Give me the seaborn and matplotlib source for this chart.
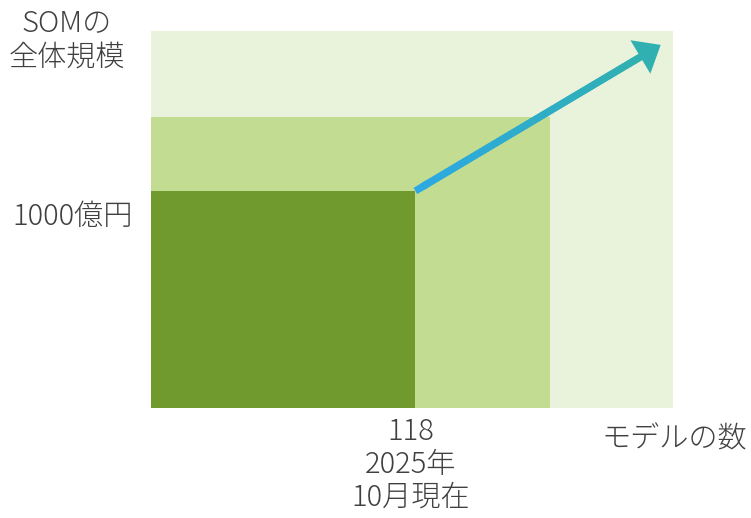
import numpy as np
import matplotlib
matplotlib.use("Agg")
import matplotlib.pyplot as plt
from matplotlib.collections import LineCollection
from matplotlib.colors import LinearSegmentedColormap
import matplotlib.transforms as mtransforms
import seaborn as sns

# Nested market tiers: (number of models, total scale in 100M yen)
tier_names = ["全体", "拡大", "現在"]
model_counts = [233, 178, 118]
market_sizes = [1737, 1340, 1000]
tier_colors = ["#E9F2DA", "#C2DD92", "#70992E"]

# Growth arrow from the current point toward the future
arrow_start = (118, 1000)
arrow_tip = (227.5, 1673)

x_tick_values = [118]
x_tick_labels = ["118\n2025年\n10月現在"]
y_tick_values = [1000]
y_tick_labels = ["1000億円"]

sns.set_theme(style="white")
plt.rcParams["font.family"] = ["Noto Sans CJK JP", "DejaVu Sans"]
text_color = "#404040"
fs = 21

fig = plt.figure(figsize=(7.51, 5.18), dpi=100)
ax = fig.add_axes([151 / 751, 110 / 518, 522 / 751, 377 / 518])

for cnt, size, col in zip(model_counts, market_sizes, tier_colors):
    ax.bar(0, size, width=cnt, align="edge", color=col, linewidth=0)

ax.set_xlim(0, model_counts[0])
ax.set_ylim(0, market_sizes[0])
for s in ax.spines.values():
    s.set_visible(False)

ax.set_xticks(x_tick_values, x_tick_labels)
ax.set_yticks(y_tick_values, y_tick_labels)
ax.tick_params(axis="both", length=0, labelsize=fs, colors=text_color)
ax.tick_params(axis="x", pad=6)
ax.tick_params(axis="y", pad=13)
xshift = mtransforms.ScaledTranslation(-5 / 100, 0, fig.dpi_scale_trans)
yshift = mtransforms.ScaledTranslation(0, -22 / 100, fig.dpi_scale_trans)
for lab in ax.get_xticklabels():
    lab.set_linespacing(1.1)
    lab.set_transform(lab.get_transform() + xshift)
for lab in ax.get_yticklabels():
    lab.set_transform(lab.get_transform() + yshift)
for lab in ax.get_xticklabels() + ax.get_yticklabels():
    lab.set_fontweight("light")

# Arrow shaft: plain blue start, then a blue -> teal gradient under the head
dx = arrow_tip[0] - arrow_start[0]
dy = arrow_tip[1] - arrow_start[1]
ax.plot([arrow_start[0], arrow_start[0] + dx * 0.05],
        [arrow_start[1], arrow_start[1] + dy * 0.05],
        color="#2DA9E3", lw=5.2, solid_capstyle="butt", zorder=4)
n = 80
t = np.linspace(0.03, 0.93, n)
pts = np.column_stack([arrow_start[0] + dx * t, arrow_start[1] + dy * t]).reshape(-1, 1, 2)
segs = np.concatenate([pts[:-1], pts[1:]], axis=1)
cmap = LinearSegmentedColormap.from_list("grow", ["#2DA9E3", "#30B0B0"])
lc = LineCollection(segs, colors=cmap(np.linspace(0, 1, n - 1)), linewidths=5.2,
                    capstyle="round", zorder=4)
ax.add_collection(lc)

# Arrow head
ax.annotate("", xy=arrow_tip,
            xytext=(arrow_start[0] + dx * 0.85, arrow_start[1] + dy * 0.85),
            arrowprops=dict(arrowstyle="-|>,head_length=0.85,head_width=0.7",
                            mutation_scale=20, color="#30B0B0", lw=0,
                            shrinkA=0, shrinkB=0),
            zorder=5, annotation_clip=False)

fig.text(67 / 751, 1 - 40 / 518, "SOMの\n全体規模", ha="center", va="center",
         fontsize=fs, color=text_color, linespacing=1.2, fontweight="light")
fig.text(674 / 751, 1 - 439 / 518, "モデルの数", ha="center", va="center",
         fontsize=fs, color=text_color, fontweight="light")

fig.savefig("out.png", dpi=100)
